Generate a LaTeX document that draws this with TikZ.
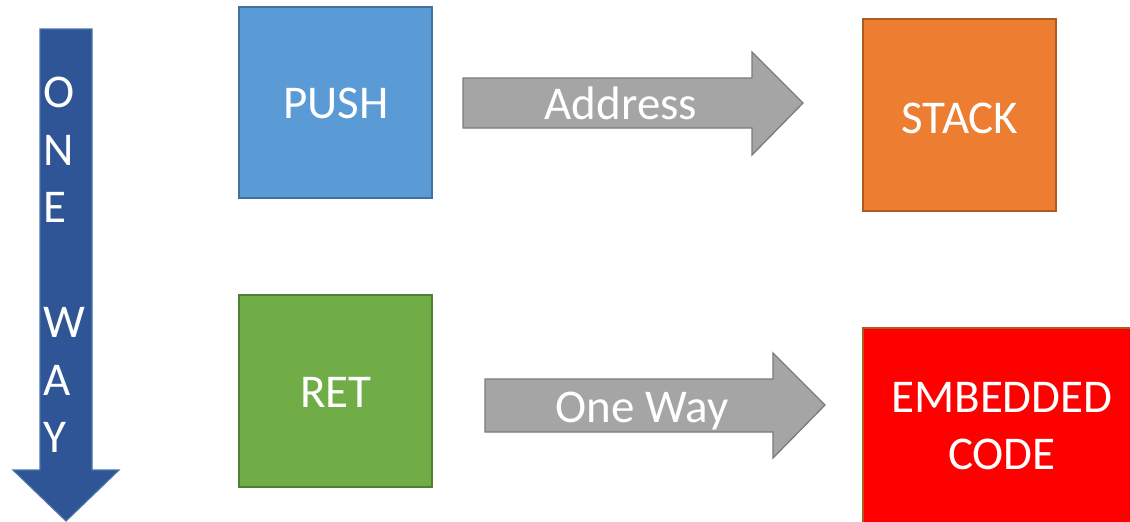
\documentclass[tikz,border=0pt]{standalone}
\usepackage{fontspec}
\setmainfont{Carlito}
\definecolor{pushblue}{HTML}{5B9BD5}
\definecolor{pushedge}{HTML}{41719C}
\definecolor{stackorange}{HTML}{ED7D31}
\definecolor{stackedge}{HTML}{AE5A21}
\definecolor{retgreen}{HTML}{70AD47}
\definecolor{retedge}{HTML}{507E32}
\definecolor{flowgrey}{HTML}{A5A5A5}
\definecolor{flowedge}{HTML}{7B7B7B}
\definecolor{wayblue}{HTML}{2F5597}
\definecolor{wayedge}{HTML}{4A74A8}
\definecolor{codered}{HTML}{FF0000}
\begin{document}
\begin{tikzpicture}[x=1pt,y=-1pt,
  bigtext/.style={font=\fontsize{47}{57}\selectfont, text=white, inner sep=0pt},
  blockbox/.style={line width=1.3pt},
  flowarrow/.style={fill=flowgrey, draw=flowedge, line width=1.3pt, line join=miter}]
  \useasboundingbox (0,0) rectangle (1130,522);
  \clip (0,0) rectangle (1130,522);

  % downward block arrow on the left
  \draw[fill=wayblue, draw=wayedge, line width=1.2pt]
    (40,29) -- (92,29) -- (92,470) -- (119,470) -- (66,521) -- (13,470) -- (40,470) -- cycle;
  \node[bigtext, anchor=north west, align=left, font=\fontsize{47}{57.5}\selectfont]
    (oneway) at (43,77) {O\\N\\E\\[57.5pt]W\\A\\Y};

  % boxes
  \path[blockbox, fill=pushblue, draw=pushedge] (239,7) rectangle (432,198);
  \node[bigtext, anchor=base] (push) at (336,118) {PUSH};

  \path[blockbox, fill=stackorange, draw=stackedge] (863,19) rectangle (1056,211);
  \node[bigtext, anchor=base] (stack) at (960,133) {STACK};

  \path[blockbox, fill=retgreen, draw=retedge] (239,295) rectangle (432,487);
  \node[bigtext, anchor=base] (ret) at (336,407) {RET};

  \path[blockbox, fill=codered, draw=stackedge] (863,328) rectangle (1140,530);
  \node[bigtext, align=center] (code) at (1002,426.5) {EMBEDDED\\CODE};

  % grey block arrows
  \draw[flowarrow]
    (463,78) -- (752,78) -- (752,52) -- (803,103) -- (752,155) -- (752,128) -- (463,128) -- cycle;
  \node[bigtext, anchor=base] (address) at (621,119) {Address};

  \draw[flowarrow]
    (485,379) -- (773,379) -- (773,353) -- (825,405) -- (773,458) -- (773,432) -- (485,432) -- cycle;
  \node[bigtext, anchor=base] (onewaylabel) at (642,422) {One Way};
\end{tikzpicture}
\end{document}
